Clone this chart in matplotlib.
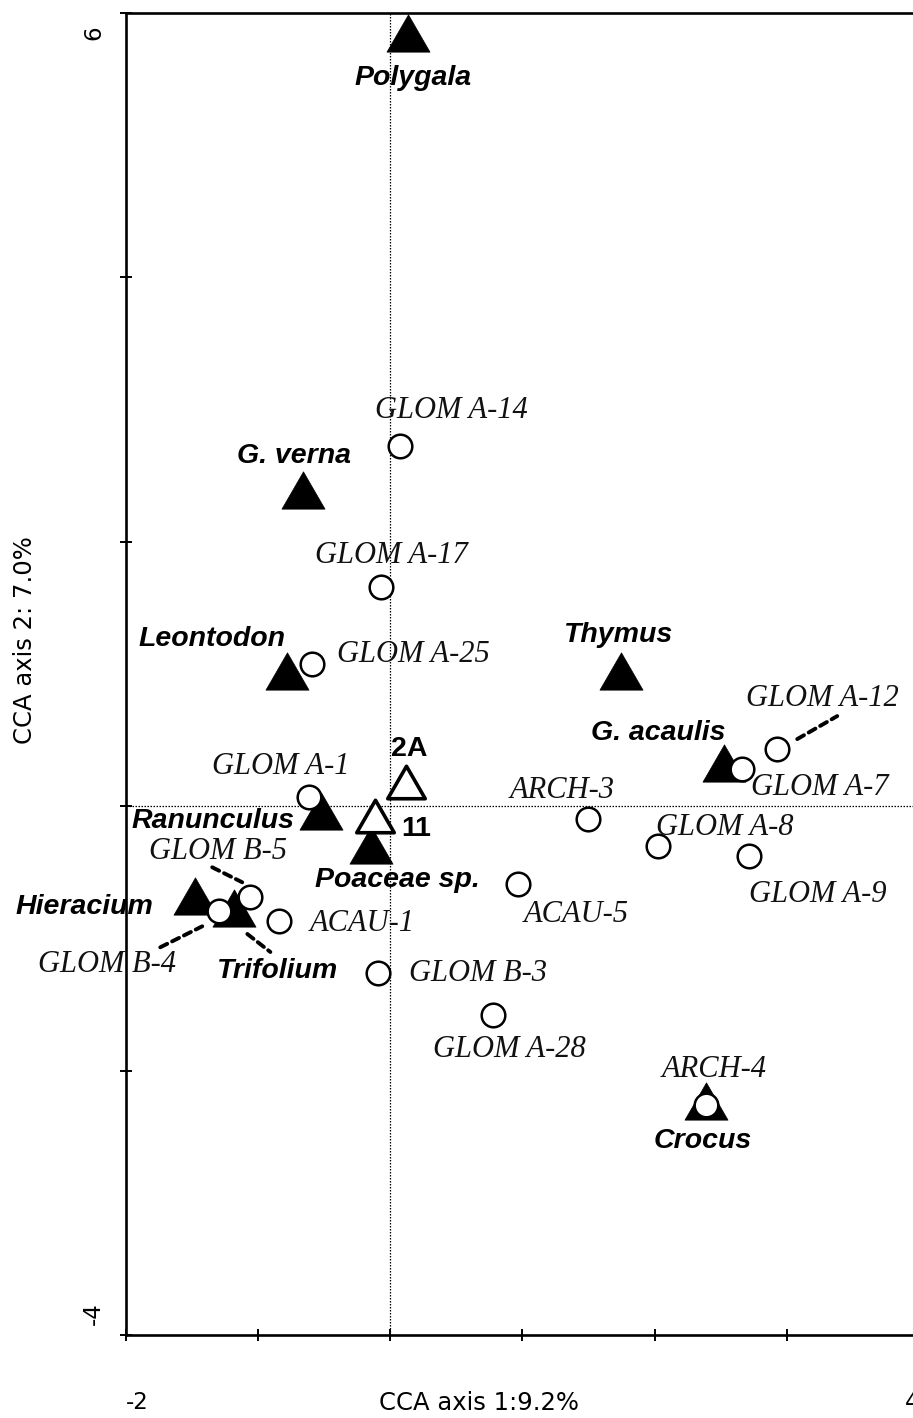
import matplotlib
matplotlib.use('Agg')
import matplotlib.pyplot as plt
from matplotlib.transforms import offset_copy, ScaledTranslation
from matplotlib.path import Path

# ---------------- data ----------------
plants = ['Polygala', 'G. verna', 'Leontodon', 'Thymus', 'G. acaulis',
          'Ranunculus', 'Poaceae sp.', 'Hieracium', 'Trifolium', 'Crocus']
plant_x = [0.136, -0.657, -0.777, 1.743, 2.528, -0.521, -0.143, -1.472, -1.177, 2.392]
plant_y = [5.85, 2.39, 1.02, 1.02, 0.326, -0.04, -0.29, -0.68, -0.77, -2.23]

samples = ['2A', '11']
sample_x = [0.121, -0.113]
sample_y = [0.18, -0.076]

fungi = ['GLOM A-14', 'GLOM A-17', 'GLOM A-25', 'GLOM A-1', 'GLOM A-12', 'GLOM A-7',
         'ARCH-3', 'GLOM A-8', 'GLOM A-9', 'ACAU-5', 'GLOM B-5', 'GLOM B-4',
         'ACAU-1', 'GLOM B-3', 'GLOM A-28', 'ARCH-4']
fungi_x = [0.075, -0.068, -0.589, -0.611, 2.928, 2.664, 1.494, 2.023, 2.717, 0.966,
           -1.057, -1.291, -0.838, -0.091, 0.777, 2.392]
fungi_y = [2.727, 1.659, 1.076, 0.068, 0.432, 0.28, -0.098, -0.303, -0.379, -0.591,
           -0.689, -0.795, -0.871, -1.265, -1.583, -2.258]

xlabel_text = 'CCA axis 1:9.2%'
ylabel_text = 'CCA axis 2: 7.0%'
xticks = [-2, -1, 0, 1, 2, 3, 4]
xtick_labels = ['-2', '', '', '', '', '', '4']
yticks = [-4, -2, 0, 2, 4, 6]
ytick_labels = ['-4', '', '', '', '', '6']

# ---------------- layout (label offsets in pixels) ----------------
plant_offsets = {'Polygala': (5, -45), 'G. verna': (-9, 34), 'Leontodon': (-75, 32),
                 'Thymus': (-2, 36), 'G. acaulis': (-66, 30), 'Ranunculus': (-108, -10),
                 'Poaceae sp.': (26, -35), 'Hieracium': (-111, -11), 'Trifolium': (43, -63),
                 'Crocus': (-4, -40)}
sample_offsets = {'2A': (3, 33), '11': (41, -13)}
fungi_offsets = {'GLOM A-14': (51, 35), 'GLOM A-17': (10, 31), 'GLOM A-25': (101, 9),
                 'GLOM A-1': (-28, 31), 'GLOM A-12': (45, 51), 'GLOM A-7': (77, -18),
                 'ARCH-3': (-25, 29), 'GLOM A-8': (67, 19), 'GLOM A-9': (68, -38),
                 'ACAU-5': (58, -30), 'GLOM B-5': (-32, 46), 'GLOM B-4': (-112, -53),
                 'ACAU-1': (83, -2), 'GLOM B-3': (100, 0), 'GLOM A-28': (17, -34),
                 'ARCH-4': (8, 35)}
# dashed leader lines: (kind, name, start offset px, end offset px)
leaders = [('f', 'GLOM A-12', (20, 10), (60, 33)),
           ('f', 'GLOM B-5', (-38, 30), (-8, 15)),
           ('f', 'GLOM B-4', (-59, -36), (-17, -15)),
           ('p', 'Trifolium', (13, -26), (36, -44))]

W, H, DPI = 913, 1418, 100
fig = plt.figure(figsize=(W / DPI, H / DPI), dpi=DPI, facecolor='white')
L, R, T, B = 125.5, 919, 13, 1335
ax = fig.add_axes([L / W, (H - B) / H, (R - L) / W, (B - T) / H])
ax.set_xlim(-2, 4)
ax.set_ylim(-4, 6)

# equilateral triangle marker
tri = Path([(0, 0.866), (-1, -0.866), (1, -0.866), (0, 0.866)],
           [Path.MOVETO, Path.LINETO, Path.LINETO, Path.CLOSEPOLY])

ax.axvline(0, color='black', lw=0.9, ls=(0, (1.2, 1.2)), zorder=1)
ax.axhline(0, color='black', lw=0.9, ls=(0, (1.2, 1.2)), zorder=1)

ax.plot(plant_x, plant_y, ls='none', marker=tri, ms=31, mfc='black', mec='black',
        mew=0.5, zorder=3)
ax.plot(sample_x, sample_y, ls='none', marker=tri, ms=27, mfc='white', mec='black',
        mew=2.6, zorder=4)
ax.plot(fungi_x, fungi_y, ls='none', marker='o', ms=17, mfc='white', mec='black',
        mew=1.8, zorder=5)

plant_font = dict(family='Liberation Sans', weight='bold', style='italic', size=20.5)
fungi_font = dict(family='Liberation Serif', style='italic', size=22)
sample_font = dict(family='Liberation Sans', weight='bold', size=20.5)

for n, x, y in zip(plants, plant_x, plant_y):
    ax.annotate(n, (x, y), xytext=plant_offsets[n], textcoords='offset pixels',
                ha='center', va='center', zorder=6, **plant_font)
for n, x, y in zip(samples, sample_x, sample_y):
    ax.annotate(n, (x, y), xytext=sample_offsets[n], textcoords='offset pixels',
                ha='center', va='center', zorder=6, **sample_font)
for n, x, y in zip(fungi, fungi_x, fungi_y):
    ax.annotate(n, (x, y), xytext=fungi_offsets[n], textcoords='offset pixels',
                ha='center', va='center', zorder=6, color='#111111', **fungi_font)

lookup = {('f', n): (x, y) for n, x, y in zip(fungi, fungi_x, fungi_y)}
lookup.update({('p', n): (x, y) for n, x, y in zip(plants, plant_x, plant_y)})
for kind, n, o1, o2 in leaders:
    pt = lookup[(kind, n)]
    t1 = offset_copy(ax.transData, fig=fig, x=o1[0], y=o1[1], units='dots')
    t2 = offset_copy(ax.transData, fig=fig, x=o2[0], y=o2[1], units='dots')
    ax.annotate('', xy=pt, xycoords=t2, xytext=pt, textcoords=t1,
                arrowprops=dict(arrowstyle='-', color='black', lw=2.8,
                                linestyle=(0, (2.0, 1.4)), shrinkA=0, shrinkB=0),
                zorder=2)

# spines & ticks
for s in ['left', 'bottom', 'top']:
    ax.spines[s].set_linewidth(1.9)
ax.spines['right'].set_visible(False)

tick_font = dict(family='DejaVu Sans', size=16.5)
label_font = dict(family='DejaVu Sans', size=17.5)
ax.set_xticks(xticks)
ax.set_xticklabels(xtick_labels, **tick_font)
ax.set_yticks(yticks)
ax.set_yticklabels(ytick_labels, rotation=90, **tick_font)
ax.tick_params(axis='both', direction='inout', length=9, width=1.4)
ax.tick_params(axis='x', pad=36)
ax.tick_params(axis='y', pad=10)

xl = ax.get_xticklabels()
xl[0].set_ha('left')
xl[-1].set_ha('right')
yl = ax.get_yticklabels()
yl[0].set_va('bottom')
yl[0].set_transform(yl[0].get_transform() + ScaledTranslation(0, 7 / 72, fig.dpi_scale_trans))
yl[-1].set_va('top')
yl[-1].set_transform(yl[-1].get_transform() + ScaledTranslation(0, -9 / 72, fig.dpi_scale_trans))

ax.set_xlabel(xlabel_text, **label_font)
ax.set_ylabel(ylabel_text, **label_font)
ax.xaxis.set_label_coords((479 - L) / (R - L), (B - 1403) / (B - T))
ax.xaxis.label.set_va('center')
ax.yaxis.set_label_coords((25 - L) / (R - L), (B - 640) / (B - T))
ax.yaxis.label.set_va('center')

fig.savefig('out.png', dpi=DPI, facecolor='white')
